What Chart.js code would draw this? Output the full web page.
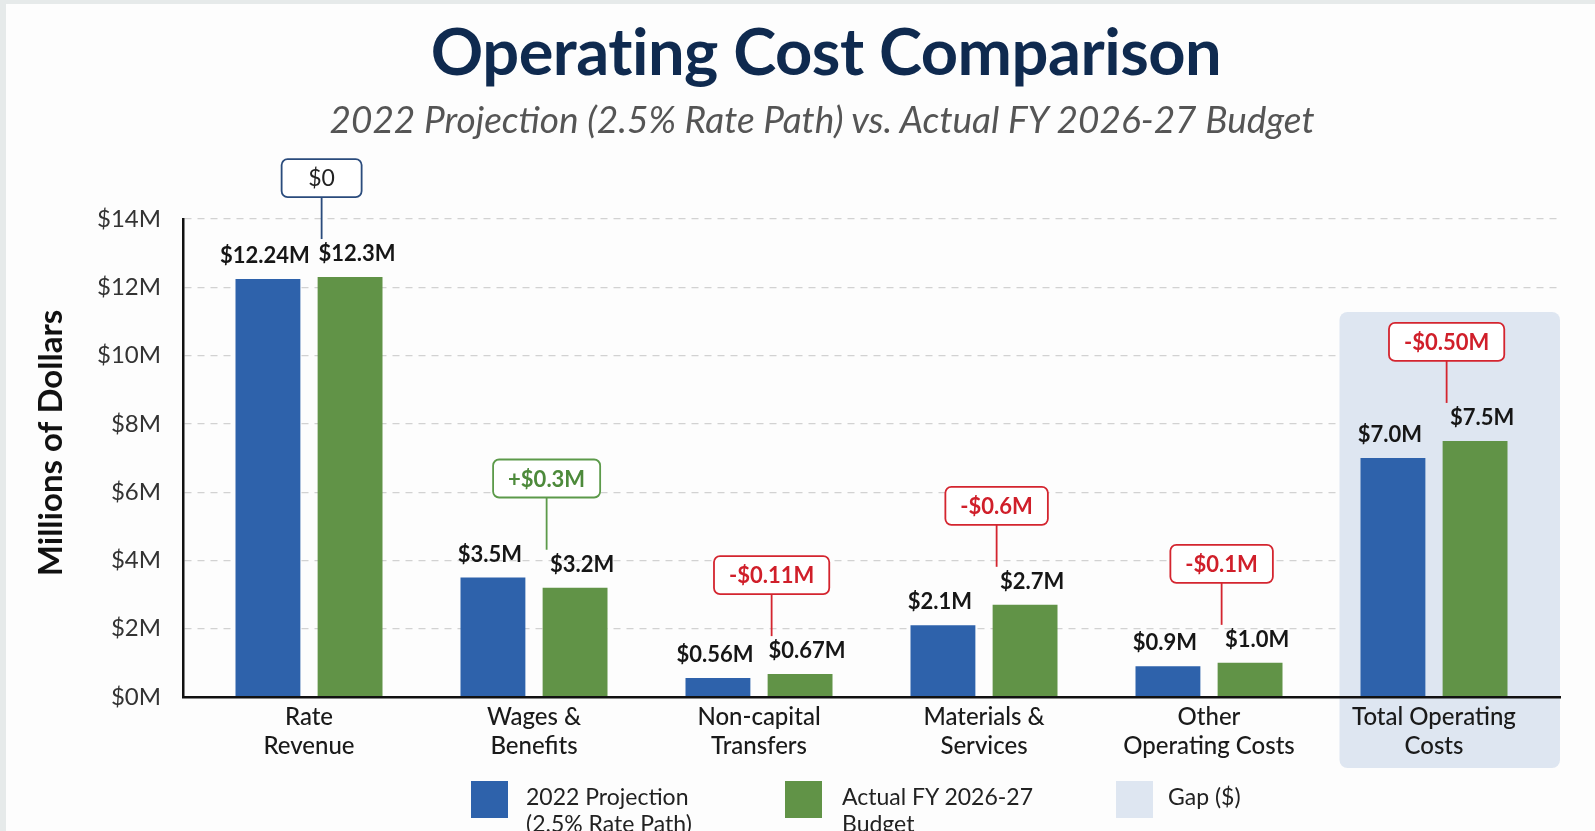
<!DOCTYPE html>
<html>
<head>
<meta charset="utf-8">
<script src="https://cdn.jsdelivr.net/npm/chart.js@4.4.1/dist/chart.umd.min.js"></script>
<style>
  html, body { margin: 0; padding: 0; background: #e6eaea; }
  #wrap { position: relative; width: 1595px; height: 831px; overflow: hidden; }
  #panel { position: absolute; left: 6px; top: 4px; right: 0; bottom: 0; background: #fdfdfd; }
  #chart { position: absolute; left: 0; top: 0; }
  .t { position: absolute; white-space: nowrap; font-family: Lato, "Open Sans", sans-serif; line-height: 1; }
  #title { left: 826px; top: 18px; transform: translateX(-50%); font-size: 65px; font-weight: 700; color: #0f2a4f; letter-spacing: -0.5px; }
  #subtitle { left: 822px; top: 100px; transform: translateX(-50%); font-size: 37px; font-style: italic; color: #555; }
  .lg { position: absolute; top: 781px; width: 37px; height: 37px; }
  .lt { position: absolute; top: 783px; font-family: Lato, sans-serif; font-size: 23px; line-height: 27px; color: #222; white-space: nowrap; }
</style>
</head>
<body>
<div id="wrap">
  <div id="panel"></div>
  <canvas id="chart" width="1595" height="831"></canvas>
  <div class="t" id="title">Operating Cost Comparison</div>
  <div class="t" id="subtitle">2022 Projection (2.5% Rate Path) vs. Actual FY 2026-27 Budget</div>
  <div class="lg" style="left:471px;background:#2e62ab"></div>
  <div class="lt" style="left:526px">2022 Projection<br>(2.5% Rate Path)</div>
  <div class="lg" style="left:785px;background:#619347"></div>
  <div class="lt" style="left:842px">Actual FY 2026-27<br>Budget</div>
  <div class="lg" style="left:1116px;background:#dee6f1"></div>
  <div class="lt" style="left:1168px">Gap ($)</div>
</div>
<script>
// ---- data ----
const categories = [
  ["Rate", "Revenue"],
  ["Wages &", "Benefits"],
  ["Non-capital", "Transfers"],
  ["Materials &", "Services"],
  ["Other", "Operating Costs"],
  ["Total Operating", "Costs"]
];
const projection2022 = [12.24, 3.5, 0.56, 2.1, 0.9, 7.0];
const actualFY2627 = [12.3, 3.2, 0.67, 2.7, 1.0, 7.5];
const projectionLabels = ["$12.24M", "$3.5M", "$0.56M", "$2.1M", "$0.9M", "$7.0M"];
const actualLabels = ["$12.3M", "$3.2M", "$0.67M", "$2.7M", "$1.0M", "$7.5M"];
const gapLabels = ["$0", "+$0.3M", "-$0.11M", "-$0.6M", "-$0.1M", "-$0.50M"];
const yTickValues = [0, 2, 4, 6, 8, 10, 12, 14];
const highlightIndex = 5;
const seriesNames = ["2022 Projection (2.5% Rate Path)", "Actual FY 2026-27 Budget"];

const BLUE = '#2e62ab', GREEN = '#619347';
const catIdx = categories.map((c, i) => i);

const overlay = {
  id: 'overlay',
  beforeDatasetsDraw(chart) {
    const { ctx, chartArea, scales: { x } } = chart;
    const cw = x.getPixelForValue(1) - x.getPixelForValue(0);
    const cx = x.getPixelForValue(highlightIndex);
    const left = cx - cw * 0.42, right = chartArea.right;
    const top = chartArea.top + 93, bottom = chartArea.bottom + 71;
    ctx.save();
    ctx.fillStyle = '#dee6f1';
    ctx.beginPath();
    ctx.roundRect(left, top, right - left, bottom - top, 8);
    ctx.fill();
    ctx.restore();
  },
  afterDatasetsDraw(chart) {
    const { ctx } = chart;
    const m0 = chart.getDatasetMeta(0).data, m1 = chart.getDatasetMeta(1).data;
    ctx.save();
    ctx.textAlign = 'center';
    ctx.textBaseline = 'middle';
    ctx.fillStyle = '#161616';
    ctx.font = '700 22px Lato, sans-serif';
    m0.forEach((b, i) => ctx.fillText(projectionLabels[i], b.x - 3, b.y - 23));
    m1.forEach((b, i) => ctx.fillText(actualLabels[i], b.x + 7, b.y - 23));
    gapLabels.forEach((txt, i) => {
      const bb = m0[i], gb = m1[i];
      const pos = txt.startsWith('+'), neg = txt.startsWith('-');
      const stroke = pos ? '#5c9a4a' : neg ? '#d4252f' : '#2a4b7c';
      const tcol = pos ? '#4d8a3b' : neg ? '#d01f2a' : '#222';
      ctx.font = (pos || neg) ? '700 22px Lato, sans-serif' : '400 23px Lato, sans-serif';
      const cx = gb.x - gb.width / 2 + 4;
      const topY = Math.min(bb.y, gb.y) - 118;
      const h = 38;
      const w = Math.max(80, ctx.measureText(txt).width + 30);
      ctx.strokeStyle = stroke;
      ctx.lineWidth = 1.8;
      ctx.beginPath();
      ctx.moveTo(cx, topY + h);
      ctx.lineTo(cx, gb.y - 38);
      ctx.stroke();
      ctx.fillStyle = '#ffffff';
      ctx.beginPath();
      ctx.roundRect(cx - w / 2, topY, w, h, 6);
      ctx.fill();
      ctx.stroke();
      ctx.fillStyle = tcol;
      ctx.fillText(txt, cx, topY + h / 2 + 1);
    });
    ctx.restore();
  },
  afterDraw(chart) {
    const { ctx } = chart;
    ctx.save();
    ctx.translate(51, 443);
    ctx.rotate(-Math.PI / 2);
    ctx.textAlign = 'center';
    ctx.textBaseline = 'middle';
    ctx.fillStyle = '#111';
    ctx.font = '700 33px Lato, sans-serif';
    ctx.fillText('Millions of Dollars', 0, 0);
    ctx.restore();
  }
};

new Chart(document.getElementById('chart'), {
  type: 'bar',
  data: {
    datasets: [
      { label: seriesNames[0], data: catIdx.map(i => ({ x: i, y: projection2022[i] })), backgroundColor: BLUE, barPercentage: 0.79, categoryPercentage: 0.73 },
      { label: seriesNames[1], data: catIdx.map(i => ({ x: i, y: actualFY2627[i] })), backgroundColor: GREEN, barPercentage: 0.79, categoryPercentage: 0.73 }
    ]
  },
  plugins: [overlay],
  options: {
    responsive: false,
    animation: false,
    devicePixelRatio: 1,
    layout: { padding: { left: 10, right: 35, top: 219, bottom: 34 } },
    plugins: { legend: { display: false }, tooltip: { enabled: false }, title: { display: false } },
    scales: {
      x: {
        type: 'linear',
        offset: false,
        bounds: 'data',
        min: -0.56, max: 5.56,
        afterBuildTicks(s) { s.ticks = catIdx.map(v => ({ value: v })); },
        grid: { display: false, drawTicks: false, offset: false },
        border: { display: true, color: '#111', width: 2.5, z: 1 },
        ticks: { z: 1, padding: 6, color: '#1a1a1a', font: { family: 'Lato', size: 24, weight: 500, lineHeight: 1.19 }, maxRotation: 0, autoSkip: false,
                 callback: v => categories[v] },
        afterFit(s) { s.height = 100; }
      },
      y: {
        min: 0, max: 14,
        afterBuildTicks(s) { s.ticks = yTickValues.map(v => ({ value: v })); },
        grid: { color: '#d2d2d2', lineWidth: 1.2, drawTicks: false },
        border: { display: true, color: '#111', width: 2.5, dash: [7, 6] },
        ticks: { padding: 22, color: '#333', font: { family: 'Lato', size: 24 }, callback: v => '$' + v + 'M' },
        afterFit(s) { s.width = 173; }
      }
    }
  }
});
</script>
</body>
</html>
